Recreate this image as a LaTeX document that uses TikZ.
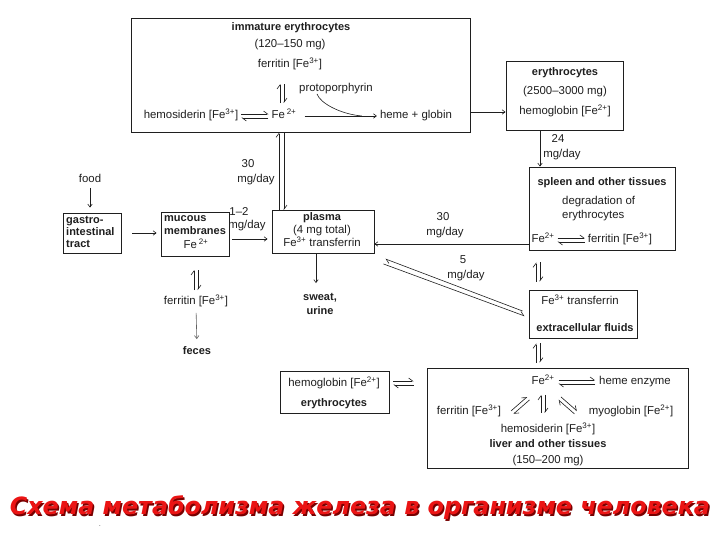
\documentclass[tikz,border=0pt]{standalone}
\usepackage{fontspec}
\setmainfont{Liberation Sans}
\newfontfamily\titlefont{DejaVu Sans Bold Oblique}
\usetikzlibrary{arrows.meta}
\definecolor{ink}{gray}{0.12}
\definecolor{titlered}{RGB}{235,20,20}
\definecolor{titleshadow}{RGB}{120,0,0}
\begin{document}
\begin{tikzpicture}[x=1pt,y=-1pt,
  box/.style={draw=ink, line width=0.9pt, inner sep=0pt},
  txt/.style={inner sep=0pt, text height=7.5pt, text depth=2pt, text=ink, font=\fontsize{11.4}{13}\selectfont},
  bld/.style={txt, font=\fontsize{11}{13}\selectfont\bfseries},
  arr/.style={draw=ink, line width=0.6pt, -{Straight Barb[length=3pt,width=4.5pt]}},
  hp/.style={draw=ink, line width=0.6pt, -{Straight Barb[harpoon,length=4pt,width=6pt]}},
  ln/.style={draw=ink, line width=0.6pt},
]
\useasboundingbox (0,0) rectangle (720,540);
\fill[white] (0,0) rectangle (720,540);

% ---------- boxes ----------
\node[box, minimum width=339pt, minimum height=114pt] (top) at (300.5,75) {};
\node[box, minimum width=117pt, minimum height=69pt] (ery) at (564.5,95.5) {};
\node[box, minimum width=146pt, minimum height=83pt] (spl) at (602,208.5) {};
\node[box, minimum width=102pt, minimum height=43pt] (pla) at (323,232) {};
\node[box, minimum width=58pt, minimum height=40pt] (gas) at (92,233) {};
\node[box, minimum width=68pt, minimum height=44pt] (muc) at (195,234) {};
\node[box, minimum width=108pt, minimum height=48pt] (ext) at (583,314) {};
\node[box, minimum width=261pt, minimum height=100pt] (liv) at (557.5,418) {};
\node[box, minimum width=109pt, minimum height=42pt] (hbx) at (334.5,392) {};

% ---------- immature erythrocytes ----------
\node[bld] (imm) at (291,28) {immature erythrocytes};
\node[txt] (immmg) at (290,45) {(120–150 mg)};
\node[txt] (tfer) at (290,65) {ferritin [Fe\textsuperscript{3+}]};
\node[txt] (proto) at (336,89) {protoporphyrin};
\node[txt] (themo) at (191,116) {hemosiderin [Fe\textsuperscript{3+}]};
\node[txt] (tfe) at (284,116) {Fe\,\textsuperscript{2+}};
\node[txt] (heme) at (416,116) {heme + globin};

\draw[hp] ([shift={(-4,-8)}]tfe.north) -- ([shift={(-4,-27)}]tfe.north);
\draw[hp] ([shift={(0,-27)}]tfe.north) -- ([shift={(0,-8)}]tfe.north);
\draw[hp, shorten <=3pt, shorten >=3pt] ([yshift=2pt]themo.east) -- ([yshift=2pt]tfe.west);
\draw[hp, shorten <=3pt, shorten >=3pt] ([yshift=-2pt]tfe.west) -- ([yshift=-2pt]themo.east);
\draw[arr, shorten <=8pt, shorten >=3pt] (tfe.east) -- (heme.west);
\draw[ln] ([xshift=-19pt]proto.south) .. controls +(3,9) and +(-22,-2) .. ([xshift=-18pt]heme.west);

% ---------- erythrocytes ----------
\node[bld] (ery1) at (565,73) {erythrocytes};
\node[txt] (ery2) at (565,92) {(2500–3000 mg)};
\node[txt] (ehb) at (565,112) {hemoglobin [Fe\textsuperscript{2+}]};
\draw[arr] (top.east |- ehb) -- (ery.west |- ehb);

\coordinate (c24) at (540,0);
\draw[arr] (ery.south -| c24) -- (spl.north -| c24);
\node[txt] (l24a) at (558,140) {24};
\node[txt] (l24b) at (562,155) {mg/day};

% ---------- spleen ----------
\node[bld] (spl1) at (602,183) {spleen and other tissues};
\node[txt, anchor=west] (spl2) at (562,202) {degradation of};
\node[txt, anchor=west] (spl3) at (562,216) {erythrocytes};
\node[txt] (sfe) at (543,240) {Fe\textsuperscript{2+}};
\node[txt] (sfer) at (620,240) {ferritin [Fe\textsuperscript{3+}]};
\draw[hp, shorten <=3pt, shorten >=3pt] ([yshift=2pt]sfe.east) -- ([yshift=2pt]sfer.west);
\draw[hp, shorten <=3pt, shorten >=3pt] ([yshift=-2pt]sfer.west) -- ([yshift=-2pt]sfe.east);

% ---------- plasma ----------
\node[bld] (pla1) at (322,218) {plasma};
\node[txt] (pla2) at (322,231) {(4 mg total)};
\node[txt] (pfe) at (322,244) {Fe\textsuperscript{3+} transferrin};
\draw[arr] (spl.west |- pfe) -- (pla.east |- pfe);
\node[txt] (l30a) at (443,218) {30};
\node[txt] (l30b) at (445,233) {mg/day};

% top box <-> plasma
\draw[hp] ([xshift=-44pt]pla.north) -- ([xshift=-44pt]top.south -| pla.north);
\draw[hp] ([xshift=-39pt]top.south -| pla.north) -- ([xshift=-39pt]pla.north);
\node[txt] (l30c) at (248,165) {30};
\node[txt] (l30d) at (256,180) {mg/day};

% ---------- food / gastro / mucous ----------
\node[txt] (food) at (90,180) {food};
\draw[arr, shorten <=3pt, shorten >=5pt] (food.south) -- (gas.north -| food.south);
\node[bld, anchor=west] (gas1) at (66,221) {gastro-};
\node[bld, anchor=west] (gas2) at (66,233) {intestinal};
\node[bld, anchor=west] (gas3) at (66,245) {tract};
\node[bld, anchor=west] (muc1) at (164,219) {mucous};
\node[bld, anchor=west] (muc2) at (164,232) {membranes};
\node[txt] (mfe) at (196,246) {Fe\,\textsuperscript{2+}};
\draw[arr, shorten <=11pt, shorten >=4pt] (gas.east |- gas2) -- (muc.west |- gas2);
\draw[arr, shorten <=3pt, shorten >=4pt] ([yshift=-5pt]muc.east) -- ([yshift=-5pt]muc.east -| pla.west);
\node[txt] (l12a) at (239,213) {1–2};
\node[txt] (l12b) at (247,226) {mg/day};

\node[txt] (mfer) at (196,302) {ferritin [Fe\textsuperscript{3+}]};
\draw[hp] ([shift={(-2,-7)}]mfer.north) -- ([shift={(-2,-27)}]mfer.north);
\draw[hp] ([shift={(2,-27)}]mfer.north) -- ([shift={(2,-7)}]mfer.north);
\node[bld] (fec) at (197,352) {feces};
\draw[arr, draw=ink!70, shorten <=6pt, shorten >=8pt] (mfer.south) -- (fec.north);

% ---------- sweat ----------
\node[bld] (sw1) at (320,298) {sweat,};
\node[bld] (sw2) at (320,312) {urine};
\draw[arr] ([xshift=-7pt]pla.south) -- ([shift={(-7,-10)}]pla.south |- sw1.north);

% ---------- extracellular ----------
\node[txt] (etf) at (580,302) {Fe\textsuperscript{3+} transferrin};
\node[bld] (eef) at (585,329) {extracellular fluids};
\draw[hp] ([shift={(-6,-3)}]ext.west) -- ([shift={(11,5)}]pla.south east);
\draw[hp] ([shift={(9,10)}]pla.south east) -- ([shift={(-4,2)}]ext.west);
\node[txt] (l5a) at (463,261) {5};
\node[txt] (l5b) at (466,276) {mg/day};

\draw[hp] ([shift={(-47,-8)}]ext.north) -- ([shift={(-47,12)}]spl.south -| ext.north);
\draw[hp] ([shift={(-43,12)}]spl.south -| ext.north) -- ([shift={(-43,-8)}]ext.north);
\draw[hp] ([shift={(-47,-5)}]liv.north -| ext.north) -- ([shift={(-47,5)}]ext.south);
\draw[hp] ([shift={(-43,5)}]ext.south) -- ([shift={(-43,-5)}]liv.north -| ext.north);

% ---------- liver ----------
\node[txt] (lfe) at (543,382) {Fe\textsuperscript{2+}};
\node[txt, anchor=west] (lhe) at (599,382) {heme enzyme};
\node[txt] (lfer) at (469,412) {ferritin [Fe\textsuperscript{3+}]};
\node[txt] (lmyo) at (631,412) {myoglobin [Fe\textsuperscript{2+}]};
\node[txt] (lhemo) at (548,430) {hemosiderin [Fe\textsuperscript{3+}]};
\node[bld] (lliv) at (548,445) {liver and other tissues};
\node[txt] (lmg) at (548,461) {(150–200 mg)};

\draw[hp, shorten <=4pt, shorten >=4pt] ([yshift=2pt]lfe.east) -- ([yshift=2pt]lhe.west);
\draw[hp, shorten <=4pt, shorten >=4pt] ([yshift=-2pt]lhe.west) -- ([yshift=-2pt]lfe.east);
\draw[hp] ([shift={(-2,26)}]lfe.south) -- ([shift={(-2,8)}]lfe.south);
\draw[hp] ([shift={(2,8)}]lfe.south) -- ([shift={(2,26)}]lfe.south);
\draw[hp] ([shift={(-32,24)}]lfe.south) -- ([shift={(-16,10)}]lfe.south);
\draw[hp] ([shift={(-13.5,13)}]lfe.south) -- ([shift={(-29.5,27)}]lfe.south);
\draw[hp] ([shift={(18,10)}]lfe.south) -- ([shift={(34,24)}]lfe.south);
\draw[hp] ([shift={(31.5,27)}]lfe.south) -- ([shift={(15.5,13)}]lfe.south);

% ---------- hemoglobin / erythrocytes ----------
\node[txt] (hb1) at (334,384) {hemoglobin [Fe\textsuperscript{2+}]};
\node[bld] (hb2) at (334,404) {erythrocytes};
\draw[hp, shorten <=4pt, shorten >=13pt] ([yshift=3pt]hbx.east |- hb1) -- ([yshift=3pt]liv.west |- hb1);
\draw[hp, shorten <=13pt, shorten >=4pt] ([yshift=-1pt]liv.west |- hb1) -- ([yshift=-1pt]hbx.east |- hb1);

% ---------- title ----------
\node[text=titleshadow, font=\titlefont\fontsize{23.8}{28}\selectfont] (titsh) at (361.5,509.5) {Схема метаболизма железа в организме человека};
\node[text=titlered, font=\titlefont\fontsize{23.8}{28}\selectfont] (title) at (360,508) {Схема метаболизма железа в организме человека};
\node[font=\fontsize{6}{6}\selectfont] (dot) at (100,526) {.};
\end{tikzpicture}
\end{document}
